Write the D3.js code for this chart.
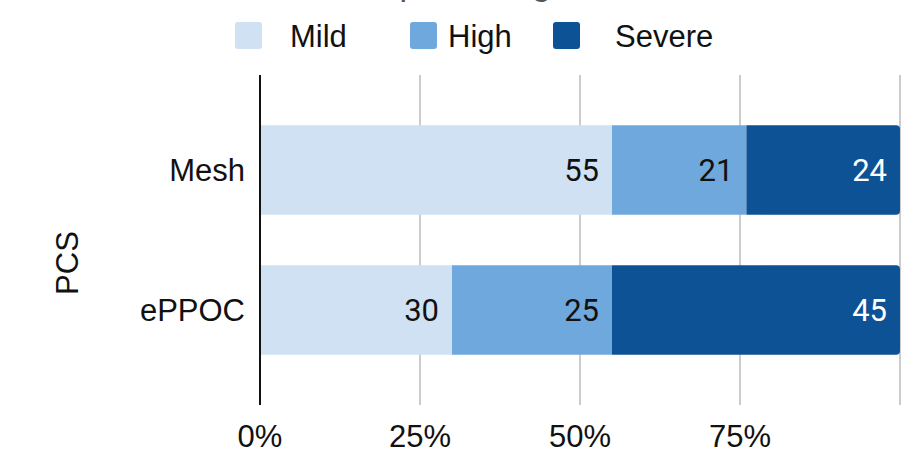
<!DOCTYPE html>
<html>
<head>
<meta charset="utf-8">
<script src="https://cdn.jsdelivr.net/npm/d3@7"></script>
<style>
  body { margin: 0; background: #fff; }
  svg { display: block; }
</style>
</head>
<body>
<div id="chart"></div>
<script>
// Data
const groups = ["Mesh", "ePPOC"];
const levels = ["Mild", "High", "Severe"];
const mild = [55, 30];
const high = [21, 25];
const severe = [24, 45];
const ticks = [0, 25, 50, 75, 100];
const levelColors = ["#cfe1f2", "#6fa8dc", "#0d5295"];

const rows = groups.map((g, i) => ({ group: g, Mild: mild[i], High: high[i], Severe: severe[i] }));

const width = 903;
const height = 459;
const marginLeft = 260;
const marginRight = 3;
const plotTop = 75;
const plotBottom = 405;

const svg = d3.select("#chart")
    .append("svg")
    .attr("width", width)
    .attr("height", height);

const x = d3.scaleLinear()
    .domain([0, 100])
    .range([marginLeft, width - marginRight]);

const y = d3.scaleBand()
    .domain(groups)
    .range([plotTop, plotBottom])
    .paddingInner(0.36)
    .paddingOuter(0.36);

const color = d3.scaleOrdinal().domain(levels).range(levelColors);

// Title (mostly cut off at the top)
svg.append("text")
    .attr("x", 445)
    .attr("y", -5)
    .attr("text-anchor", "middle")
    .attr("font-family", "Liberation Sans, Arial, sans-serif")
    .attr("font-size", 34)
    .attr("fill", "#555")
    .text("PCS percentage");

// Gridlines
svg.append("g")
    .selectAll("line")
    .data(ticks.slice(1))
    .join("line")
    .attr("x1", d => x(d))
    .attr("x2", d => x(d))
    .attr("y1", plotTop)
    .attr("y2", plotBottom)
    .attr("stroke", "#cccccc")
    .attr("stroke-width", 2);

// Stacked bars
const stack = d3.stack().keys(levels)(rows);

const r = 4;
function segPath(x0, x1, y0, h, roundRight) {
    if (!roundRight) return `M${x0},${y0}H${x1}V${y0 + h}H${x0}Z`;
    return `M${x0},${y0}H${x1 - r}Q${x1},${y0} ${x1},${y0 + r}V${y0 + h - r}Q${x1},${y0 + h} ${x1 - r},${y0 + h}H${x0}Z`;
}

const layer = svg.append("g")
    .selectAll("g")
    .data(stack)
    .join("g")
    .attr("fill", d => color(d.key));

layer.selectAll("path")
    .data(d => d.map(v => Object.assign(v, { key: d.key })))
    .join("path")
    .attr("d", d => segPath(x(d[0]), x(d[1]), y(d.data.group), y.bandwidth(), d.key === "Severe"));

// Value labels
layer.selectAll("text")
    .data(d => d)
    .join("text")
    .attr("x", d => x(d[1]) - 13)
    .attr("y", d => y(d.data.group) + y.bandwidth() / 2 + 11)
    .attr("text-anchor", "end")
    .attr("font-family", "Roboto, sans-serif")
    .attr("font-size", 31)
    .attr("fill", d => d.key === "Severe" ? "#ffffff" : "#111111")
    .text(d => d[1] - d[0]);

// Y axis line
svg.append("line")
    .attr("x1", x(0))
    .attr("x2", x(0))
    .attr("y1", plotTop)
    .attr("y2", plotBottom)
    .attr("stroke", "#111")
    .attr("stroke-width", 2);

// Y category labels
svg.append("g")
    .selectAll("text")
    .data(groups)
    .join("text")
    .attr("x", 245)
    .attr("y", d => y(d) + y.bandwidth() / 2 + 11)
    .attr("text-anchor", "end")
    .attr("font-family", "Liberation Sans, Arial, sans-serif")
    .attr("font-size", 31)
    .attr("fill", "#111")
    .text(d => d);

// Y axis title
svg.append("text")
    .attr("transform", "translate(78,263) rotate(-90)")
    .attr("text-anchor", "middle")
    .attr("font-family", "Liberation Sans, Arial, sans-serif")
    .attr("font-size", 31)
    .attr("fill", "#111")
    .text("PCS");

// X tick labels
svg.append("g")
    .selectAll("text")
    .data(ticks.slice(0, 4))
    .join("text")
    .attr("x", d => x(d))
    .attr("y", 447)
    .attr("text-anchor", "middle")
    .attr("font-family", "Liberation Sans, Arial, sans-serif")
    .attr("font-size", 31)
    .attr("fill", "#111")
    .text(d => d + "%");

// Legend
const legendX = [235, 410, 553];
const legend = svg.append("g")
    .selectAll("g")
    .data(levels)
    .join("g")
    .attr("transform", (d, i) => `translate(${legendX[i]},22)`);

legend.append("rect")
    .attr("width", 27)
    .attr("height", 27)
    .attr("rx", 3)
    .attr("fill", d => color(d));

legend.append("text")
    .attr("x", (d, i) => [55, 38, 62][i])
    .attr("y", 25)
    .attr("font-family", "Liberation Sans, Arial, sans-serif")
    .attr("font-size", 31)
    .attr("fill", "#111")
    .text(d => d);
</script>
</body>
</html>
